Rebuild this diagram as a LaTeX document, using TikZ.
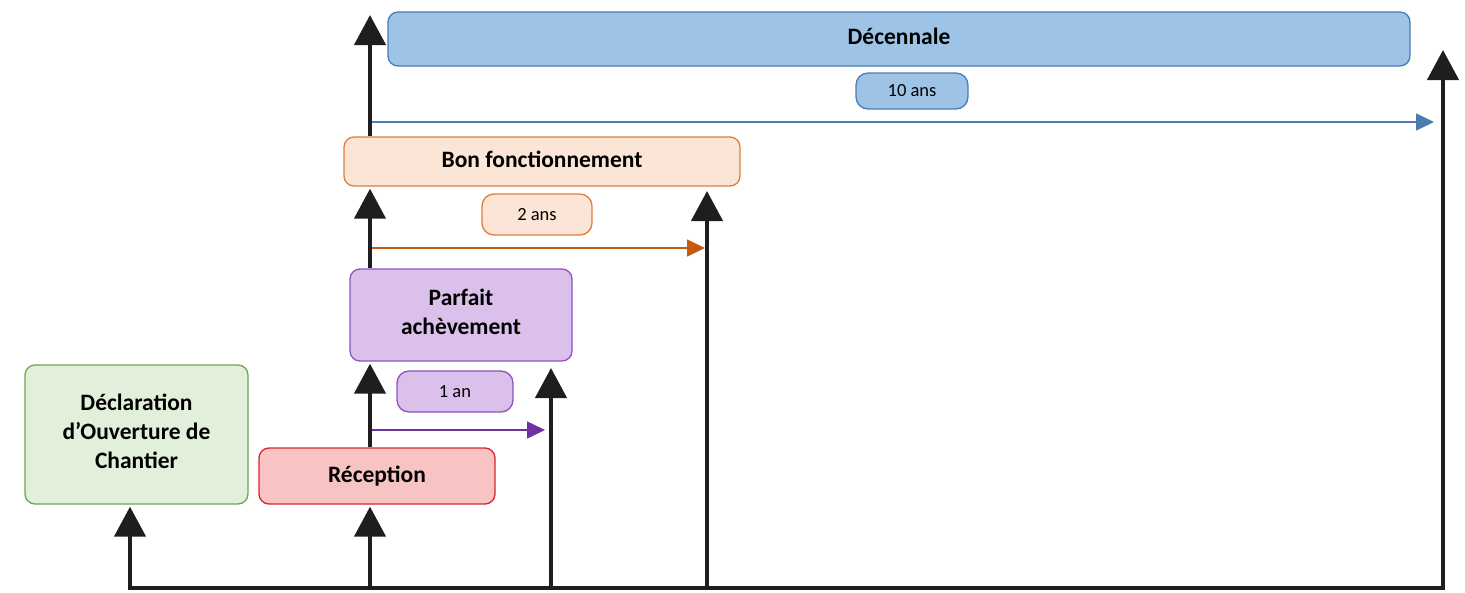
\documentclass[tikz,border=0pt]{standalone}
\usepackage{fontspec}
\setmainfont{Carlito}
\usetikzlibrary{arrows.meta}
\definecolor{bfill}{HTML}{9DC3E6}
\definecolor{bdraw}{HTML}{4A7DB0}
\definecolor{ofill}{HTML}{FBE5D6}
\definecolor{odraw}{HTML}{DD7E3C}
\definecolor{oarrow}{HTML}{C55A11}
\definecolor{pfill}{HTML}{DAC0EA}
\definecolor{pdraw}{HTML}{9052C0}
\definecolor{parrow}{HTML}{7030A0}
\definecolor{rfill}{HTML}{F8C3C3}
\definecolor{rdraw}{HTML}{D9262A}
\definecolor{gfill}{HTML}{E2EFDA}
\definecolor{gdraw}{HTML}{6FA64A}
\definecolor{blk}{HTML}{1E1E1E}
\tikzset{
  box/.style={rectangle, rounded corners=10pt, line width=1.3pt, inner sep=0pt},
  boxtext/.style={inner sep=0pt, yshift=3.5pt, font=\fontsize{23.5}{29}\selectfont\bfseries, align=center, text=black},
  tag/.style={rectangle, rounded corners=12pt, line width=1.3pt, inner sep=0pt,
    font=\fontsize{18.5}{20}\selectfont, text=black},
  blkarrow/.style={draw=blk, line width=4.5pt, -{Triangle[length=30pt,width=31pt]}, shorten >=2pt},
  colarrow/.style={line width=1.6pt, -{Triangle[length=18pt,width=17pt]}},
}
\begin{document}
\begin{tikzpicture}[x=1pt,y=-1pt]
\useasboundingbox (0,0) rectangle (1465,592);
% boxes
\node[box, fill=bfill, draw=bdraw, minimum width=1022pt, minimum height=54pt,
  label={[boxtext, yshift=-1pt]center:Décennale}] (dec) at (899,39) {};
\node[tag, fill=bfill, draw=bdraw, minimum width=112pt, minimum height=36pt] (t10) at (912,91) {10 ans};
\node[box, fill=ofill, draw=odraw, minimum width=396pt, minimum height=49pt,
  label={[boxtext, yshift=-1pt]center:Bon fonctionnement}] (bon) at (542,161.5) {};
\node[tag, fill=ofill, draw=odraw, minimum width=110pt, minimum height=41pt] (t2) at (537,214.5) {2 ans};
\node[box, fill=pfill, draw=pdraw, minimum width=222pt, minimum height=92pt,
  label={[boxtext]center:Parfait\\achèvement}] (par) at (461,315) {};
\node[tag, fill=pfill, draw=pdraw, minimum width=116pt, minimum height=41pt] (t1) at (455,391.5) {1 an};
\node[box, fill=rfill, draw=rdraw, minimum width=236pt, minimum height=56pt,
  label={[boxtext, yshift=-3.5pt]center:Réception}] (rec) at (377,476) {};
\node[box, fill=gfill, draw=gdraw, minimum width=223pt, minimum height=139pt,
  label={[boxtext]center:Déclaration\\d’Ouverture de\\Chantier}] (doc) at (136.5,434.5) {};
% coordinates
\coordinate (b0) at (130,588);
\coordinate (b1) at (370,588);
\coordinate (b2) at (551,588);
\coordinate (b3) at (707,588);
\coordinate (b4) at (1443,588);
\coordinate (t2top) at (551,368);
\coordinate (t3top) at (707,191);
\coordinate (t4top) at (1443,50);
\coordinate (top1) at (370,15);
\coordinate (pa) at (372,430);
\coordinate (pb) at (545,430);
\coordinate (oa) at (372,248);
\coordinate (ob) at (705,248);
\coordinate (ba) at (372,122);
\coordinate (bb) at (1434,122);
% bottom line
\draw[blk, line width=4.5pt, line cap=rect] (b0) -- (b4);
% black arrows
\draw[blkarrow] (b0) -- (doc.south -| b0);
\draw[blkarrow] (b1) -- (rec.south -| b1);
\draw[blkarrow] (rec.north -| b1) -- (par.south -| b1);
\draw[blkarrow] (par.north -| b1) -- (bon.south -| b1);
\draw[blkarrow, shorten >=0pt] (bon.north -| b1) -- (top1);
\draw[blkarrow, shorten >=0pt] (b2) -- (t2top);
\draw[blkarrow, shorten >=0pt] (b3) -- (t3top);
\draw[blkarrow, shorten >=0pt] (b4) -- (t4top);
% coloured arrows
\draw[colarrow, draw=parrow, fill=parrow] (pa) -- (pb);
\draw[colarrow, draw=oarrow, fill=oarrow] (oa) -- (ob);
\draw[colarrow, draw=bdraw, fill=bdraw] (ba) -- (bb);
\end{tikzpicture}
\end{document}
